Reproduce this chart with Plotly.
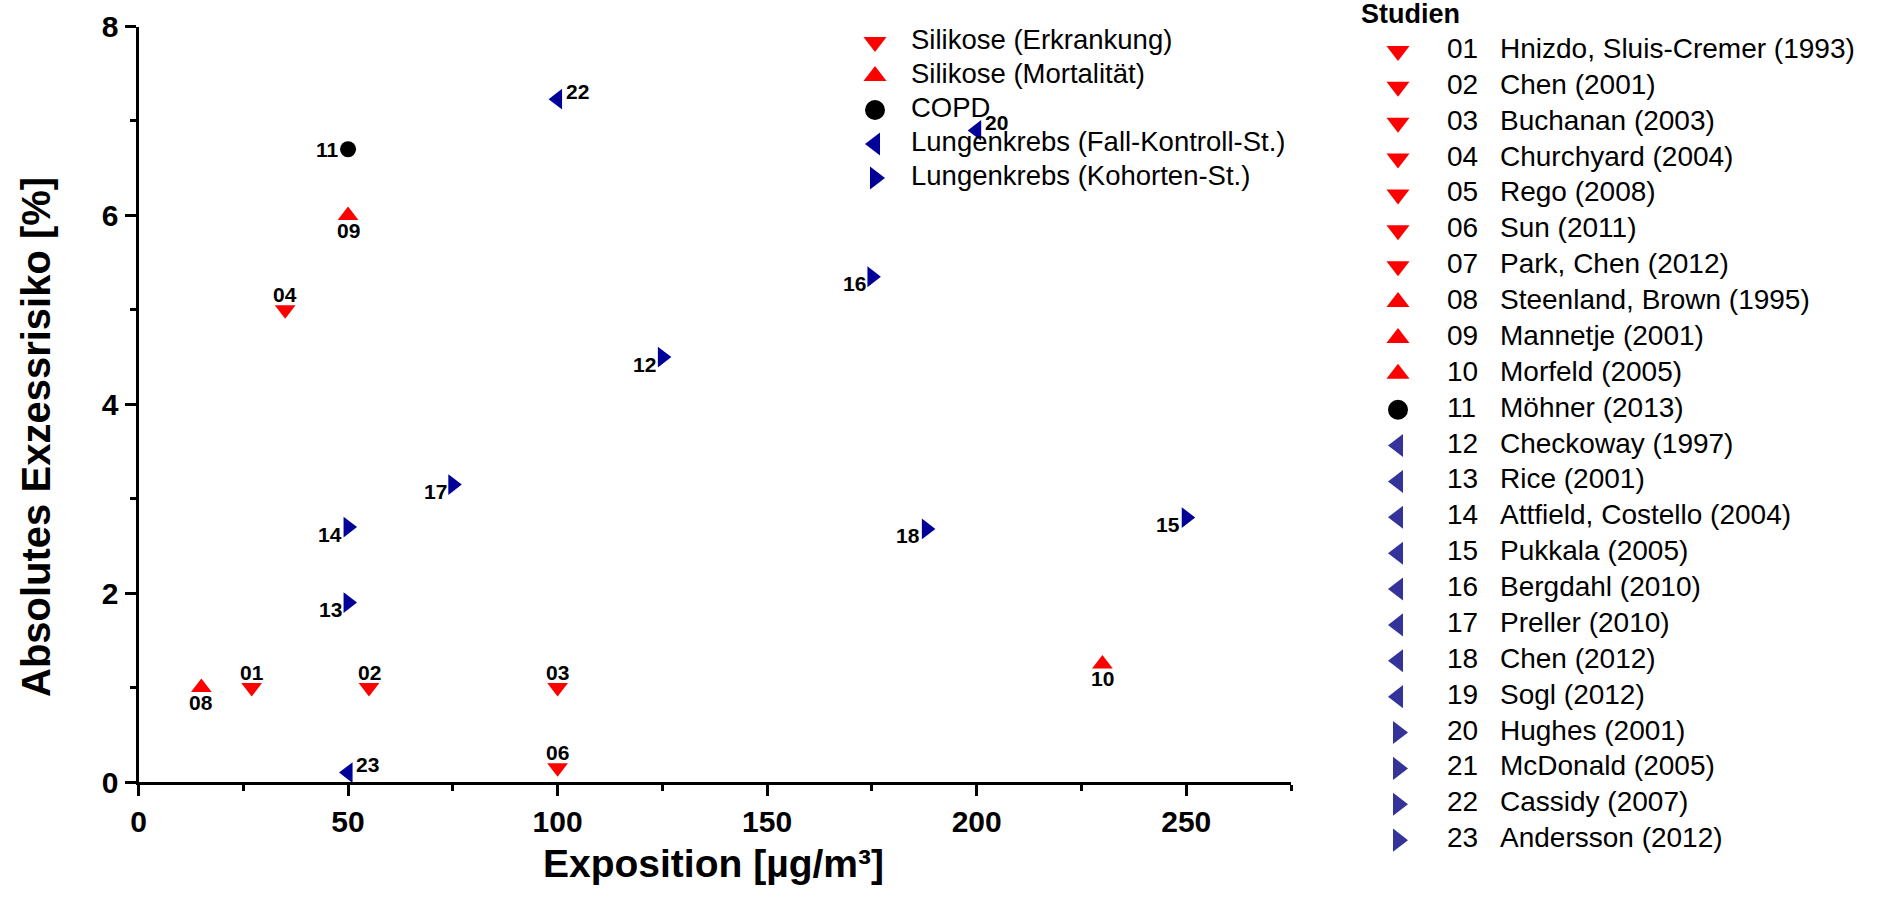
import plotly.graph_objects as go

# ---------------- data ----------------
study_ids = ["01", "02", "03", "04", "05", "06", "07", "08", "09", "10", "11", "12",
             "13", "14", "15", "16", "17", "18", "19", "20", "21", "22", "23"]
study_names = ["Hnizdo, Sluis-Cremer (1993)", "Chen (2001)", "Buchanan (2003)",
               "Churchyard (2004)", "Rego (2008)", "Sun (2011)", "Park, Chen (2012)",
               "Steenland, Brown (1995)", "Mannetje (2001)", "Morfeld (2005)",
               "Möhner (2013)", "Checkoway (1997)", "Rice (2001)",
               "Attfield, Costello (2004)", "Pukkala (2005)", "Bergdahl (2010)",
               "Preller (2010)", "Chen (2012)", "Sogl (2012)", "Hughes (2001)",
               "McDonald (2005)", "Cassidy (2007)", "Andersson (2012)"]
study_category = ["erk"] * 7 + ["mort"] * 3 + ["copd"] + ["fk"] * 8 + ["koh"] * 4

categories = ["erk", "mort", "copd", "fk", "koh"]
category_labels = ["Silikose (Erkrankung)", "Silikose (Mortalität)", "COPD",
                   "Lungenkrebs (Fall-Kontroll-St.)", "Lungenkrebs (Kohorten-St.)"]

# plotted studies (as drawn in the figure)
pt_ids = ["01", "02", "03", "04", "06", "08", "09", "10", "11", "12", "13", "14",
          "15", "16", "17", "18", "20", "22", "23"]
pt_x = [27, 55, 100, 35, 100, 15, 50, 230, 50, 125, 50, 50, 250, 175, 75, 188, 200, 100, 50]
pt_y = [1.0, 1.0, 1.0, 5.0, 0.15, 1.0, 6.0, 1.25, 6.7, 4.5, 1.9, 2.7, 2.8, 5.35, 3.15, 2.68,
        6.9, 7.23, 0.1]
pt_symbol = (["triangle-down"] * 5 + ["triangle-up"] * 3 + ["circle"] +
             ["triangle-right"] * 7 + ["triangle-left"] * 3)
pt_labelpos = (["top"] * 5 + ["bottom"] * 3 + ["left"] + ["left"] * 7 + ["right"] * 3)

x_ticks = [0, 50, 100, 150, 200, 250]
x_minor = [25, 75, 125, 175, 225, 275]
y_ticks = [0, 2, 4, 6, 8]
y_minor = [1, 3, 5, 7]

# ---------------- styles ----------------
W, H = 1889, 901
FONT = "Liberation Sans, Arial, sans-serif"
RED = "#ff0000"
NAVY = "#000099"
LEG_BLUE = "#333399"
cat_symbol = {"erk": "triangle-down", "mort": "triangle-up", "copd": "circle",
              "fk": "triangle-left", "koh": "triangle-right"}
cat_color_plot = {"erk": RED, "mort": RED, "copd": "black", "fk": NAVY, "koh": NAVY}
cat_color_leg = {"erk": RED, "mort": RED, "copd": "black", "fk": LEG_BLUE, "koh": LEG_BLUE}
sym_color = {"triangle-down": RED, "triangle-up": RED, "circle": "black",
             "triangle-right": NAVY, "triangle-left": NAVY}


def px_x(p):
    return p / W


def px_y(p):
    return 1 - p / H


# main plot area in screen pixels
PL, PR, PT, PB = 138.5, 1291, 26.5, 782

fig = go.Figure()

# data points grouped by symbol
for sym in ["triangle-down", "triangle-up", "circle", "triangle-right", "triangle-left"]:
    idx = [i for i, s in enumerate(pt_symbol) if s == sym]
    fig.add_trace(go.Scatter(
        x=[pt_x[i] for i in idx], y=[pt_y[i] for i in idx],
        text=[pt_ids[i] for i in idx], mode="markers",
        marker=dict(symbol=sym, size=16 if sym == "circle" else 18,
                    color=sym_color[sym], line=dict(width=0)),
        cliponaxis=False, showlegend=False, hoverinfo="x+y+text",
    ))

# point labels (placed on the data scales)
label_anns = []
for i, pid in enumerate(pt_ids):
    pos, sym = pt_labelpos[i], pt_symbol[i]
    if pos == "top":
        xa, xs, ys = "center", 0, 15.5
    elif pos == "bottom":
        xa, xs, ys = "center", 0, -15
    elif pos == "left":
        xa = "right"
        xs, ys = (-8, 0) if sym == "circle" else (-5, -7)
    else:
        xa, xs, ys = "left", 7, 8
    label_anns.append(dict(
        x=pt_x[i], y=pt_y[i], xref="x", yref="y", text=f"<b>{pid}</b>",
        showarrow=False, xanchor=xa, yanchor="middle", xshift=xs, yshift=ys,
        borderpad=0, font=dict(family=FONT, size=21, color="black")))

# ---- inner category legend (overlay pixel axis) ----
IL_MX, IL_TX, IL_Y0, IL_DY = 875, 911, 42, 34
for k, cat in enumerate(categories):
    fig.add_trace(go.Scatter(
        x=[IL_MX], y=[IL_Y0 + k * IL_DY], xaxis="x2", yaxis="y2", mode="markers",
        marker=dict(symbol=cat_symbol[cat], size=20, color=cat_color_plot[cat]),
        showlegend=False, hoverinfo="skip"))
fig.add_trace(go.Scatter(
    x=[IL_TX] * len(categories), y=[IL_Y0 + k * IL_DY for k in range(len(categories))],
    text=category_labels, mode="text", textposition="middle right",
    textfont=dict(family=FONT, size=27.5, color="black"),
    xaxis="x2", yaxis="y2", showlegend=False, hoverinfo="skip"))

# ---- right "Studien" legend ----
RL_MX, RL_NX, RL_TX, RL_Y0, RL_DY = 1398, 1447, 1500, 51, 35.87
rows = list(range(len(study_ids)))
for cat in categories:
    idx = [i for i in rows if study_category[i] == cat]
    fig.add_trace(go.Scatter(
        x=[RL_MX] * len(idx), y=[RL_Y0 + i * RL_DY for i in idx],
        xaxis="x2", yaxis="y2", mode="markers",
        marker=dict(symbol=cat_symbol[cat], size=20, color=cat_color_leg[cat]),
        showlegend=False, hoverinfo="skip"))
fig.add_trace(go.Scatter(
    x=[RL_NX] * len(rows), y=[RL_Y0 + i * RL_DY for i in rows], text=study_ids,
    mode="text", textposition="middle right",
    textfont=dict(family=FONT, size=28, color="black"),
    xaxis="x2", yaxis="y2", showlegend=False, hoverinfo="skip"))
fig.add_trace(go.Scatter(
    x=[RL_TX] * len(rows), y=[RL_Y0 + i * RL_DY for i in rows], text=study_names,
    mode="text", textposition="middle right",
    textfont=dict(family=FONT, size=28, color="black"),
    xaxis="x2", yaxis="y2", showlegend=False, hoverinfo="skip"))

axis_common = dict(showline=True, linewidth=3, linecolor="black", mirror=False,
                   showgrid=False, zeroline=False, ticks="outside", ticklen=11,
                   tickwidth=3, tickcolor="black",
                   tickfont=dict(family=FONT, size=30, color="black", weight="bold"))
minor_common = dict(ticklen=6, tickwidth=3, ticks="outside", tickcolor="black")

fig.update_layout(
    width=W, height=H, margin=dict(l=0, r=0, t=0, b=0, autoexpand=False),
    paper_bgcolor="white", plot_bgcolor="rgba(0,0,0,0)", showlegend=False,
    xaxis=dict(domain=[px_x(PL), px_x(PR)], range=[0, 275], tickvals=x_ticks, anchor="y",
               minor=dict(tickvals=x_minor, **minor_common), **axis_common),
    yaxis=dict(domain=[px_y(PB), px_y(PT)], range=[0, 8], tickvals=y_ticks, anchor="x",
               minor=dict(tickvals=y_minor, **minor_common), **axis_common),
    xaxis2=dict(domain=[0, 1], range=[0, W], visible=False, anchor="y2", fixedrange=True),
    yaxis2=dict(domain=[0, 1], range=[H, 0], visible=False, anchor="x2", fixedrange=True),
    annotations=label_anns + [
        dict(text="<b>Exposition [µg/m³]</b>", x=px_x(713), y=px_y(863), xref="paper",
             yref="paper", showarrow=False, xanchor="center", yanchor="middle",
             font=dict(family=FONT, size=39, color="black")),
        dict(text="<b>Absolutes Exzessrisiko [%]</b>", x=px_x(36), y=px_y(437),
             xref="paper", yref="paper", showarrow=False, textangle=-90,
             xanchor="center", yanchor="middle",
             font=dict(family=FONT, size=40, color="black")),
        dict(text="<b>Studien</b>", x=px_x(1359), y=px_y(14), xref="paper", yref="paper",
             showarrow=False, xanchor="left", yanchor="middle",
             font=dict(family=FONT, size=27, color="black")),
    ],
)

fig.write_html("out.html", config={"displayModeBar": False},
               post_script="document.body.style.margin='0px';")
